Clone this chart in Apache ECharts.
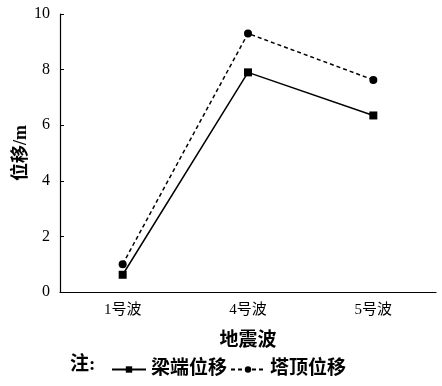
<!DOCTYPE html>
<html><head><meta charset="utf-8">
<script src="https://cdn.jsdelivr.net/npm/echarts@6/dist/echarts.min.js"></script>
<style>html,body{margin:0;padding:0;background:#fff}#c{width:442px;height:386px}</style>
</head><body><div id="c"></div>
<script>
const categories = ['1号波', '4号波', '5号波'];
const beamEnd = [0.62, 7.9, 6.35];
const towerTop = [1.0, 9.3, 7.63];
const yTicks = [0, 2, 4, 6, 8, 10];
const seriesNames = ['梁端位移', '塔顶位移'];

const FONT = '"Liberation Serif", "Noto Sans CJK SC", serif';
const chart = echarts.init(document.getElementById('c'));
chart.setOption({
  animation: false,
  backgroundColor: '#fff',
  textStyle: { fontFamily: FONT, color: '#000' },
  grid: { left: 60, right: 6, top: 14, bottom: 94, containLabel: false, outerBoundsMode: 'none' },
  graphic: [{
    type: 'text', left: 70, top: 356,
    style: { text: '注:', font: 'bold 19px ' + FONT, fill: '#000' }
  }],
  legend: {
    left: 106, top: 355, itemGap: 3, itemWidth: 34, itemHeight: 8,
    textStyle: { fontSize: 19, fontWeight: 'bold', color: '#000', fontFamily: FONT, padding: [0, 0, 0, 0] },
    data: seriesNames
  },
  xAxis: {
    type: 'category', data: categories,
    name: '地震波', nameLocation: 'middle', nameGap: 40,
    nameTextStyle: { fontSize: 19, fontWeight: 'bold', color: '#000', fontFamily: FONT },
    axisLine: { lineStyle: { color: '#000', width: 1.2 } },
    axisTick: { alignWithLabel: true, length: 4, inside: true, lineStyle: { color: '#000' } },
    axisLabel: { fontSize: 15, color: '#000', margin: 11, fontFamily: FONT },
    splitLine: { show: false }
  },
  yAxis: {
    type: 'value', min: 0, max: 10, interval: 2,
    name: '位移/m', nameLocation: 'middle', nameGap: 30, nameRotate: 90, nameMoveOverlap: false,
    nameTextStyle: { fontSize: 18, fontWeight: 'bold', color: '#000', fontFamily: FONT },
    axisLine: { show: true, lineStyle: { color: '#000', width: 1.2 } },
    axisTick: { show: true, inside: true, length: 4, lineStyle: { color: '#000' } },
    axisLabel: { fontSize: 16, color: '#000', margin: 10, fontFamily: FONT,
      formatter: v => yTicks.includes(v) ? String(v) : '' },
    splitLine: { show: false }
  },
  series: [
    {
      name: seriesNames[0], type: 'line', data: beamEnd,
      symbol: 'rect', symbolSize: 8,
      lineStyle: { color: '#000', width: 1.5, type: 'solid' },
      itemStyle: { color: '#000' }
    },
    {
      name: seriesNames[1], type: 'line', data: towerTop,
      symbol: 'circle', symbolSize: 8,
      lineStyle: { color: '#000', width: 1.5, type: [4, 3] },
      itemStyle: { color: '#000' }
    }
  ]
});
</script></body></html>
